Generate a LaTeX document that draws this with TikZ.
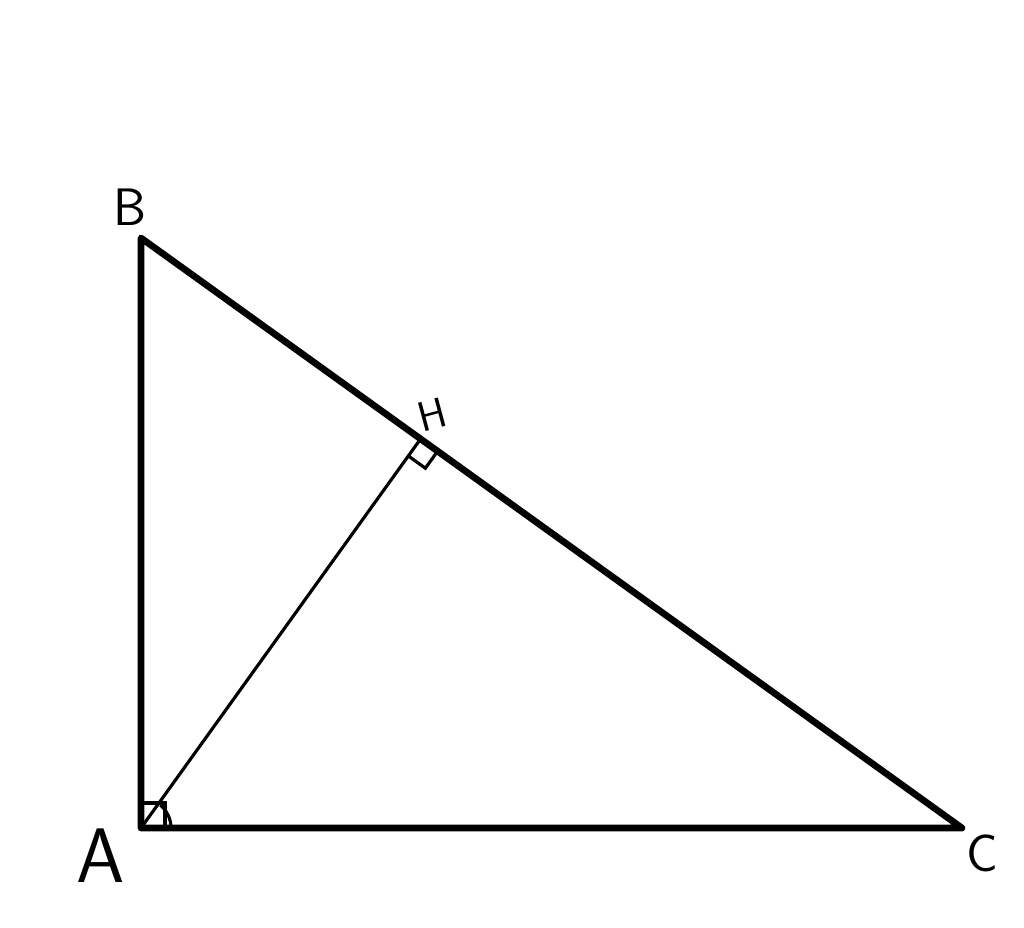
\documentclass[tikz,border=0pt]{standalone}
\usetikzlibrary{calc}
\begin{document}
\begin{tikzpicture}[x=0.02cm,y=-0.02cm,
  side/.style={line width=3.8pt,line join=round,line cap=round},
  alt/.style={line width=1.8pt},
  tick/.style={line width=1.8pt},
  lbl/.style={font=\sffamily\fontsize{#1}{#1}\selectfont,inner sep=0pt}]

\useasboundingbox (0,0) rectangle (1024,928);

\coordinate (A) at (141,828);
\coordinate (B) at (141,238);
\coordinate (C) at (962,828);
\coordinate (H) at ($(B)!(A)!(C)$);

\draw[side] (B) -- (A) -- (C) -- cycle;
\draw[alt] (A) -- (H);

% right angle at A
\draw[tick] ($(A)+(0,-25)$) -- ++(24,0) -- ++(0,25);
\draw[tick] ($(A)+(30,0)$) arc[start angle=0,end angle=-50,radius=30];

% right angle at H
\coordinate (h1) at ($(H)!0.42cm!(A)$);
\coordinate (h2) at ($(H)!0.42cm!(C)$);
\draw[tick] (h1) -- ($(h1)+(h2)-(H)$) -- (h2);

\node[lbl=30] (lB) at (130,207) {B};
\node[lbl=24,rotate=15] (lH) at (432,415) {H};
\node[lbl=44] (lA) at (101,856) {A};
\node[lbl=30] (lC) at (982,853) {C};

\end{tikzpicture}
\end{document}
